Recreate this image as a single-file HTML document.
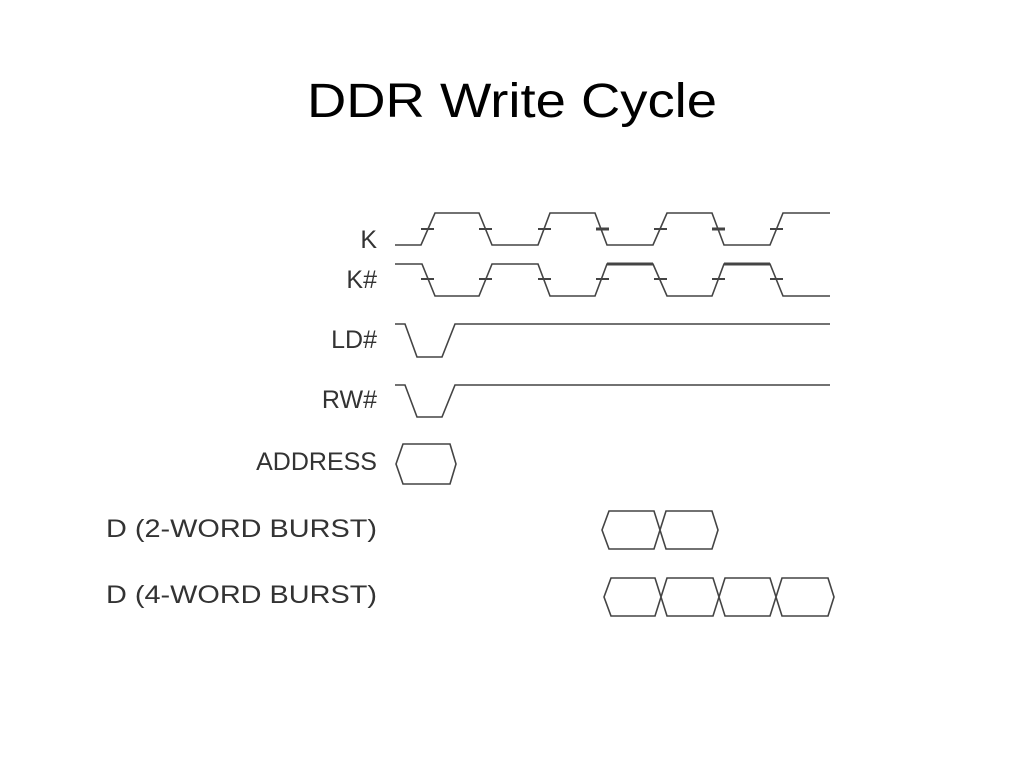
<!DOCTYPE html>
<html><head><style>
html,body{margin:0;padding:0;background:#fff;width:1024px;height:768px;overflow:hidden}
</style></head><body>
<svg width="1024" height="768" xmlns="http://www.w3.org/2000/svg">
<text x="307" y="117" font-family="Liberation Sans, sans-serif" font-size="48" fill="#000" textLength="410" lengthAdjust="spacingAndGlyphs">DDR Write Cycle</text>
<g font-family="Liberation Sans, sans-serif" font-size="25" fill="#333" text-anchor="end">
<text x="377" y="248">K</text>
<text x="377" y="288">K#</text>
<text x="377" y="348">LD#</text>
<text x="377" y="408">RW#</text>
<text x="377" y="470">ADDRESS</text>
<text x="377" y="537" textLength="271" lengthAdjust="spacingAndGlyphs">D (2-WORD BURST)</text>
<text x="377" y="603" textLength="271" lengthAdjust="spacingAndGlyphs">D (4-WORD BURST)</text>
</g>
<g fill="none" stroke="#444" stroke-width="1.6" stroke-linejoin="miter">
<polyline points="395,245 421,245 435,213 479,213 492,245 538,245 550,213 595,213 607,245 653,245 667,213 712,213 724,245 770,245 783,213 830,213"/>
<polyline points="395,264 422,264 435,296 479,296 492,264 538,264 550,296 595,296 607,264 653,264 667,296 712,296 724,264 770,264 783,296 830,296"/>
<line x1="607" y1="264" x2="653" y2="264" stroke-width="3"/>
<line x1="724" y1="264" x2="770" y2="264" stroke-width="3"/>
<g stroke-width="2">
<line x1="421" y1="229" x2="434" y2="229"/><line x1="479" y1="229" x2="492" y2="229"/>
<line x1="538" y1="229" x2="551" y2="229"/><line x1="596" y1="229" x2="609" y2="229" stroke-width="3"/>
<line x1="654" y1="229" x2="667" y2="229"/><line x1="712" y1="229" x2="725" y2="229" stroke-width="3"/>
<line x1="770" y1="229" x2="783" y2="229"/>
<line x1="421" y1="279" x2="434" y2="279"/><line x1="479" y1="279" x2="492" y2="279"/>
<line x1="538" y1="279" x2="551" y2="279"/><line x1="596" y1="279" x2="609" y2="279"/>
<line x1="654" y1="279" x2="667" y2="279"/><line x1="712" y1="279" x2="725" y2="279"/>
<line x1="770" y1="279" x2="783" y2="279"/>
</g>
<polyline points="395,324 405,324 417,357 442,357 455,324 830,324"/>
<polyline points="395,385 405,385 417,417 442,417 455,385 830,385"/>
<polygon points="396,464 403,444 450,444 456,464 450,484 403,484"/>
<polygon points="602,530 609,511 654,511 666,549 712,549 718,530 712,511 666,511 654,549 609,549"/>
<polygon points="604,597 611,578 655,578 667,616 713,616 725,578 770,578 782,616 828,616 834,597 828,578 782,578 770,616 725,616 713,578 667,578 655,616 611,616"/>
</g>
</svg>
</body></html>
